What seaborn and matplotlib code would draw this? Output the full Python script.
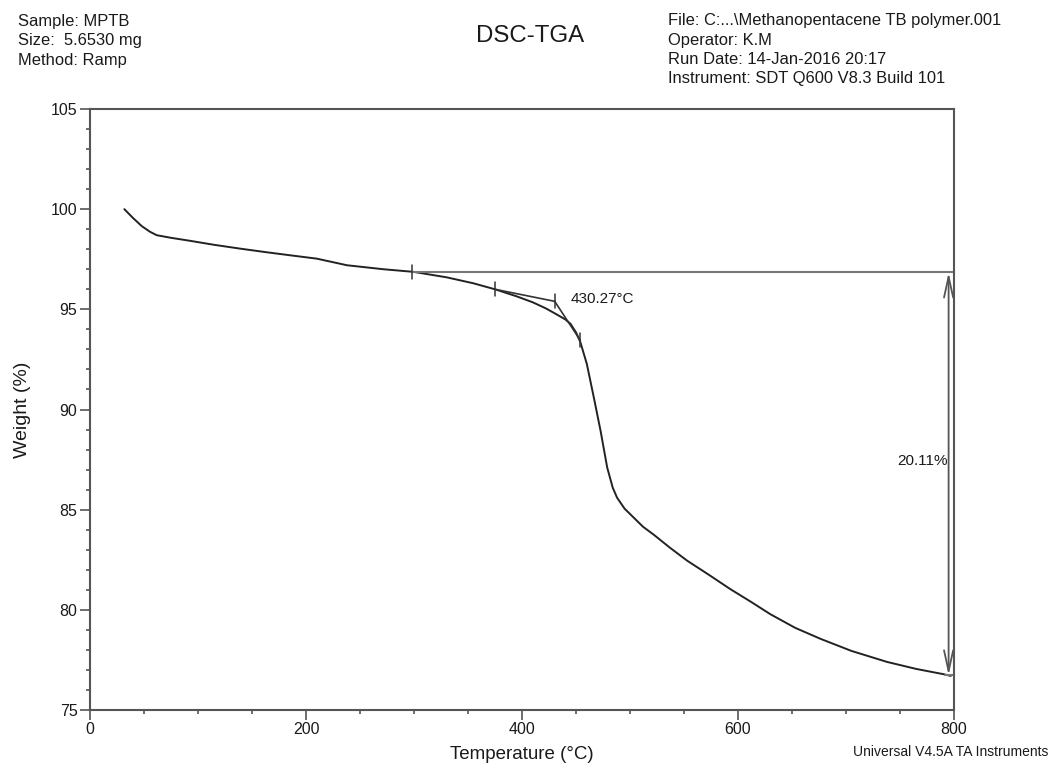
import matplotlib
matplotlib.use("Agg")
import matplotlib.pyplot as plt
from matplotlib.ticker import MultipleLocator
import seaborn as sns
import pandas as pd

# ---- data ----
temperature = [31.8, 40, 48, 55.6, 61.8, 75, 92.7, 115, 139, 162, 185, 210, 238, 272, 299.6,
               330, 355, 375, 395, 410, 422, 432, 440, 444.9, 450, 454, 460, 466.5, 472.7,
               478.9, 484, 488, 495, 503.5, 512, 522, 537, 553, 573, 593, 612, 630, 653,
               676.5, 705, 738, 765, 791, 797]
weight = [100.0, 99.55, 99.15, 98.87, 98.7, 98.57, 98.42, 98.22, 98.03, 97.86, 97.7, 97.53, 97.2,
          97.0, 96.87, 96.6, 96.3, 96.0, 95.65, 95.35, 95.05, 94.75, 94.5, 94.28, 93.85, 93.37,
          92.28, 90.6, 88.95, 87.1, 86.1, 85.6, 85.05, 84.6, 84.15, 83.75, 83.1, 82.45, 81.75,
          81.03, 80.4, 79.78, 79.1, 78.55, 77.95, 77.4, 77.05, 76.78, 76.7]

x_ticks = [0, 200, 400, 600, 800]
y_ticks = [75, 80, 85, 90, 95, 100, 105]

baseline_start = 298.5
baseline_weight = 96.84
loss_pct = 20.11
loss_label_y = 87.45
arrow_x = 795
onset_temp = 430.27
tangent1_x = [375, 430.27]
tangent1_y = [96.0, 95.4]
tangent2_x = [430.27, 454]
tangent2_y = [95.4, 93.45]
tick_marks_x = [298.5, 375, 430.27, 454]
tick_marks_y = [96.85, 96.0, 95.4, 93.45]

header_left = ["Sample: MPTB", "Size:  5.6530 mg", "Method: Ramp"]
header_right = ["File: C:...\\Methanopentacene TB polymer.001", "Operator: K.M",
                "Run Date: 14-Jan-2016 20:17", "Instrument: SDT Q600 V8.3 Build 101"]

# ---- plotting ----
sns.set_theme(style="ticks")
plt.rcParams["font.family"] = ["Liberation Sans", "DejaVu Sans"]

W, H = 1051, 765
fig = plt.figure(figsize=(W / 100, H / 100), dpi=100)
ax = fig.add_axes([90 / W, 1 - 710 / H, 864 / W, 601 / H])

df = pd.DataFrame({"Temperature": temperature, "Weight": weight})
sns.lineplot(data=df, x="Temperature", y="Weight", ax=ax, color="#222222", linewidth=1.4,
             sort=False, estimator=None)

ax.set_xlim(0, 800)
ax.set_ylim(75, 105)
ax.set_xticks(x_ticks)
ax.set_yticks(y_ticks)
ax.xaxis.set_minor_locator(MultipleLocator(50))
ax.yaxis.set_minor_locator(MultipleLocator(1))
ax.tick_params(axis="both", which="major", direction="out", length=7, width=1.2,
               color="#555555", labelsize=11.5, labelcolor="#1a1a1a", pad=2)
ax.tick_params(axis="both", which="minor", direction="out", length=3, width=1.2,
               color="#555555")
for s in ax.spines.values():
    s.set_color("#555555")
    s.set_linewidth(1.5)

ax.set_xlabel("Temperature (°C)", fontsize=13.5, color="#1a1a1a", labelpad=6)
ax.set_ylabel("Weight (%)", fontsize=14, color="#1a1a1a", labelpad=14)

# baseline and step annotation
ax.plot([baseline_start, 800], [baseline_weight, baseline_weight], color="#777777", lw=1.5)
end_w = baseline_weight - loss_pct
ax.plot([arrow_x - 3, 800], [end_w, end_w], color="#777777", lw=1.5)
ax.annotate("", xy=(arrow_x, end_w), xytext=(arrow_x, baseline_weight),
            arrowprops=dict(arrowstyle="<->,head_length=1.0,head_width=0.22",
                            color="#555555", lw=1.3, mutation_scale=15,
                            shrinkA=0, shrinkB=0))
ax.text(arrow_x - 0.5, loss_label_y, f"{loss_pct:.2f}%", ha="right",
        va="center", fontsize=11, color="#1a1a1a")

# onset tangents
ax.plot(tangent1_x, tangent1_y, color="#333333", lw=1.2)
ax.plot(tangent2_x, tangent2_y, color="#333333", lw=1.2)
for tx, ty in zip(tick_marks_x, tick_marks_y):
    ax.plot([tx, tx], [ty - 0.35, ty + 0.35], color="#333333", lw=1.1)
ax.text(onset_temp + 15, 95.5, f"{onset_temp:.2f}°C", ha="left", va="center",
        fontsize=11, color="#1a1a1a")

# header texts
left_y = [21.7, 40.7, 60.0]
right_y = [21.0, 40.7, 60.0, 79.0]
for txt, yy in zip(header_left, left_y):
    fig.text(18 / W, 1 - yy / H, txt, ha="left", va="center",
             fontsize=11.9, color="#1a1a1a")
for txt, yy in zip(header_right, right_y):
    fig.text(668 / W, 1 - yy / H, txt, ha="left", va="center",
             fontsize=11.9, color="#1a1a1a")
fig.text(530 / W, 1 - 36 / H, "DSC-TGA", ha="center", va="center",
         fontsize=17.3, color="#1a1a1a")
fig.text(1048 / W, 1 - 752 / H, "Universal V4.5A TA Instruments", ha="right",
         va="center", fontsize=10, color="#1a1a1a")

fig.savefig("out.png", dpi=100)
